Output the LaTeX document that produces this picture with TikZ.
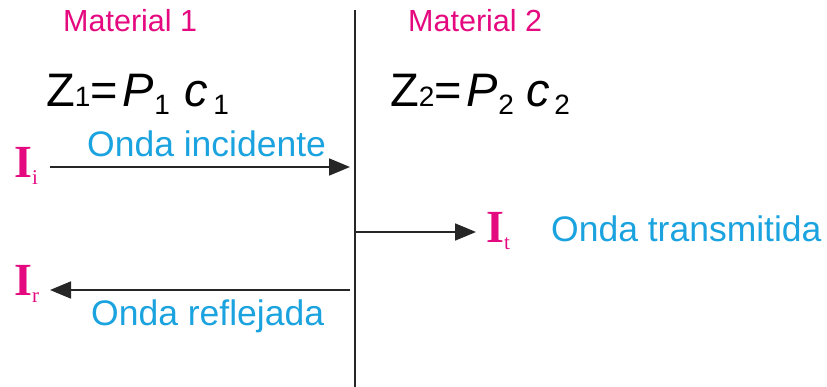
\documentclass[tikz,border=0pt]{standalone}
\usepackage{fontspec}
\setmainfont{Liberation Sans}
\newfontfamily\serifI{Liberation Serif}
\usetikzlibrary{arrows.meta}
\definecolor{mag}{HTML}{E5097F}
\definecolor{cyn}{HTML}{1BA3DF}
\newcommand{\lowsub}[1]{\raisebox{-8pt}{\fontsize{28}{28}\selectfont #1}}
\newcommand{\flatsub}[1]{{\fontsize{28}{28}\selectfont #1}}
\newcommand{\Ilab}[1]{{\serifI\bfseries\fontsize{46}{46}\selectfont I}\raisebox{-7pt}{\serifI\fontsize{21}{21}\selectfont #1}}
\begin{document}
\begin{tikzpicture}[x=1pt,y=-1pt,
 lab/.style={inner sep=0pt, anchor=base west},
 mat/.style={lab, text=mag, font=\fontsize{30.5}{30.5}\selectfont},
 wave/.style={lab, text=cyn, font=\fontsize{35.5}{35.5}\selectfont},
 eq/.style={lab, font=\fontsize{47}{47}\selectfont},
 intens/.style={lab, text=mag},
 wall/.style={line width=1.8pt, draw=black!85},
 ray/.style={line width=1.8pt, draw=black!85, -{Triangle[length=21pt,width=17pt]}}]
\useasboundingbox (0,0) rectangle (827,387);
% wall
\coordinate (wtop) at (355,10);
\coordinate (wbot) at (355,387);
\draw[wall] (wtop) -- (wbot);
% material labels
\node[mat] (m1) at (63,32) {Material 1};
\node[mat] (m2) at (408,32) {Material 2};
% impedance equations
\node[eq] (eq1) at (46,107) {Z\flatsub{1}=\hspace{5pt}\textit{P}\lowsub{1}\hspace{15pt}\textit{c}\hspace{5pt}\lowsub{1}};
\node[eq] (eq2) at (390,107) {Z\flatsub{2}=\hspace{5pt}\textit{P}\lowsub{2}\hspace{13pt}\textit{c}\hspace{4pt}\lowsub{2}};
% incident
\node[intens] (Ii) at (14,178) {\Ilab{i}};
\node[wave] (winc) at (87,157) {Onda incidente};
\coordinate (incA) at (50,167);
\coordinate (incB) at (350,167);
\draw[ray] (incA) -- (incB);
% transmitted
\coordinate (trA) at (356,232);
\coordinate (trB) at (476,232);
\draw[ray] (trA) -- (trB);
\node[intens] (It) at (486,243) {\Ilab{t}};
\node[wave] (wtr) at (551,242) {Onda transmitida};
% reflected
\coordinate (rfA) at (350,290);
\coordinate (rfB) at (50,290);
\draw[ray] (rfA) -- (rfB);
\node[intens] (Ir) at (14,295) {\Ilab{r}};
\node[wave] (wrf) at (91,325) {Onda reflejada};
\end{tikzpicture}
\end{document}
